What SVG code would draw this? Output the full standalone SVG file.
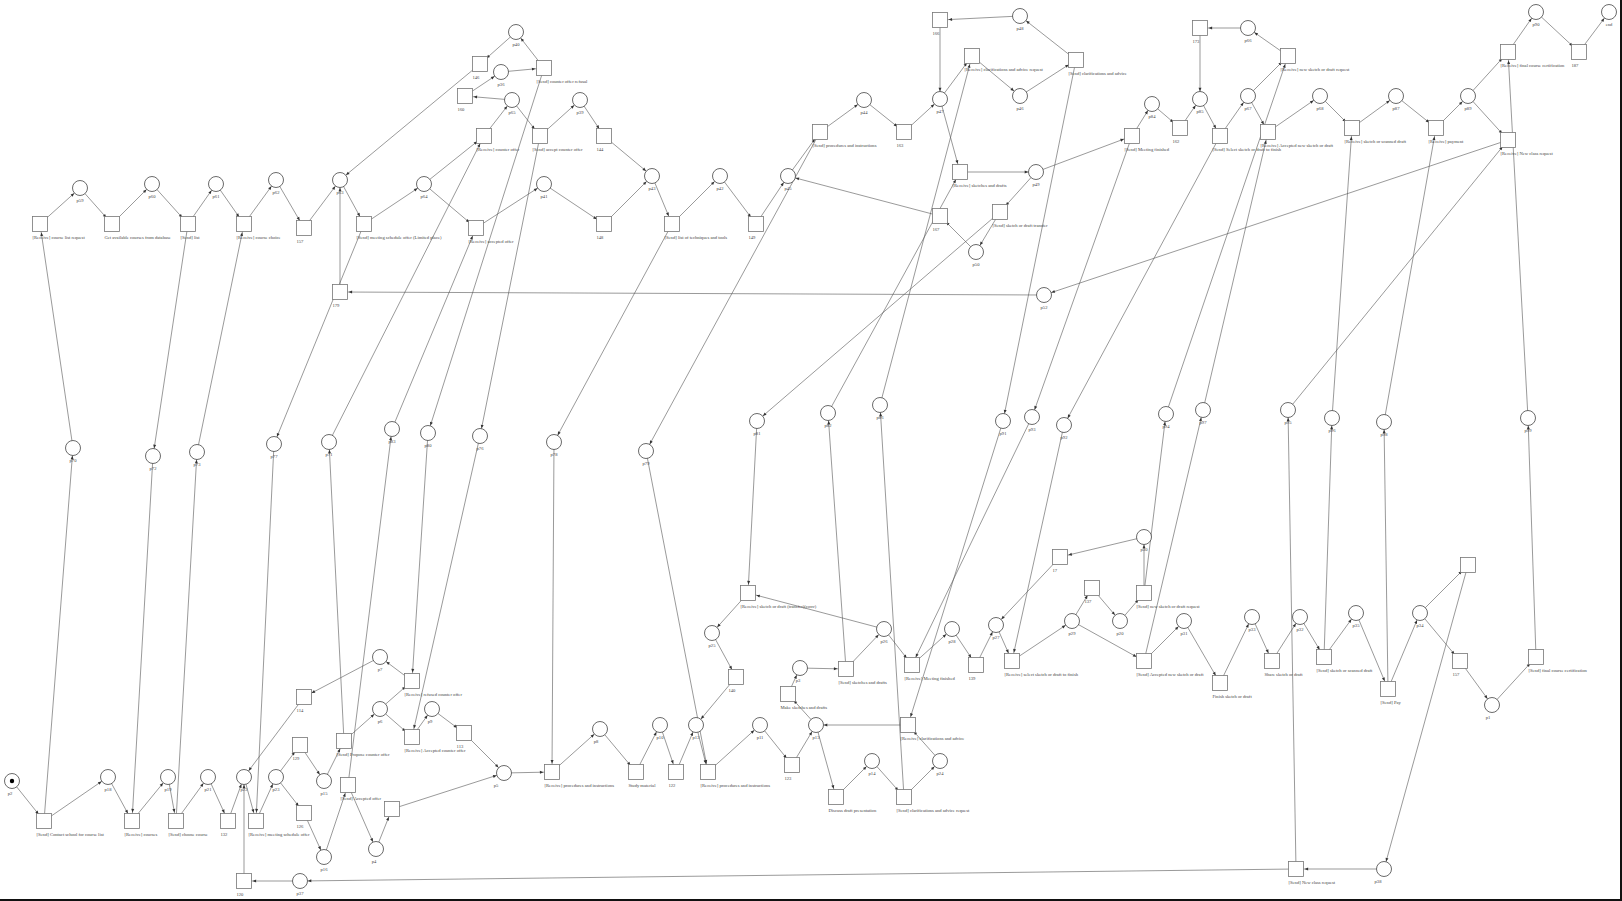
<svg xmlns="http://www.w3.org/2000/svg" width="1622" height="901" viewBox="0 0 1622 901">
<style>
.c line{stroke:#555;stroke-width:0.6;fill:none}
.c .p{marker-end:url(#aP)}
.c .t{marker-end:url(#aT)}
.tr rect{fill:#fff;stroke:#777;stroke-width:0.8}
.pl circle{fill:#fff;stroke:#444;stroke-width:0.8}
.pl circle.tok{fill:#000;stroke:none}
text{font-family:"Liberation Serif",serif;font-size:4.6px;fill:#444}
.pl text{text-anchor:middle}
</style>
<defs>
<marker id="aP" markerUnits="userSpaceOnUse" markerWidth="6" markerHeight="6" refX="7.8" refY="0" orient="auto" overflow="visible"><path d="M-3.5,-1.5L0,0L-3.5,1.5z" fill="#333"/></marker>
<marker id="aT" markerUnits="userSpaceOnUse" markerWidth="6" markerHeight="6" refX="8.6" refY="0" orient="auto" overflow="visible"><path d="M-3.5,-1.5L0,0L-3.5,1.5z" fill="#333"/></marker>
</defs>
<rect width="1622" height="901" fill="#fff"/>
<g id="connectors" class="c">
<line class="p" x1="40" y1="224" x2="80" y2="188"/>
<line class="t" x1="80" y1="188" x2="112" y2="224"/>
<line class="p" x1="112" y1="224" x2="152" y2="184"/>
<line class="t" x1="152" y1="184" x2="188" y2="224"/>
<line class="p" x1="188" y1="224" x2="216" y2="184"/>
<line class="t" x1="216" y1="184" x2="244" y2="224"/>
<line class="p" x1="244" y1="224" x2="276" y2="180"/>
<line class="t" x1="276" y1="180" x2="304" y2="228"/>
<line class="p" x1="304" y1="228" x2="340" y2="180"/>
<line class="p" x1="340" y1="292" x2="340" y2="180"/>
<line class="t" x1="340" y1="180" x2="364" y2="224"/>
<line class="p" x1="364" y1="224" x2="424" y2="184"/>
<line class="p" x1="364" y1="224" x2="274" y2="444"/>
<line class="t" x1="1044" y1="295" x2="340" y2="292"/>
<line class="p" x1="480" y1="64" x2="340" y2="180"/>
<line class="t" x1="424" y1="184" x2="484" y2="136"/>
<line class="t" x1="424" y1="184" x2="476" y2="228"/>
<line class="p" x1="476" y1="228" x2="544" y2="184"/>
<line class="t" x1="544" y1="184" x2="604" y2="224"/>
<line class="p" x1="604" y1="224" x2="652" y2="176"/>
<line class="p" x1="604" y1="136" x2="652" y2="176"/>
<line class="t" x1="652" y1="176" x2="672" y2="224"/>
<line class="p" x1="672" y1="224" x2="720" y2="176"/>
<line class="t" x1="720" y1="176" x2="756" y2="224"/>
<line class="p" x1="756" y1="224" x2="788" y2="176"/>
<line class="p" x1="940" y1="216" x2="788" y2="176"/>
<line class="t" x1="788" y1="176" x2="820" y2="132"/>
<line class="p" x1="820" y1="132" x2="864" y2="100"/>
<line class="t" x1="864" y1="100" x2="904" y2="132"/>
<line class="p" x1="904" y1="132" x2="940" y2="99"/>
<line class="p" x1="940" y1="20" x2="940" y2="99"/>
<line class="t" x1="1020" y1="16" x2="940" y2="20"/>
<line class="p" x1="1076" y1="60" x2="1020" y2="16"/>
<line class="t" x1="940" y1="99" x2="972" y2="56"/>
<line class="p" x1="972" y1="56" x2="1020" y2="96"/>
<line class="t" x1="1020" y1="96" x2="1076" y2="60"/>
<line class="t" x1="940" y1="99" x2="960" y2="172"/>
<line class="p" x1="960" y1="172" x2="1036" y2="172"/>
<line class="t" x1="1036" y1="172" x2="1132" y2="136"/>
<line class="t" x1="1036" y1="172" x2="1000" y2="212"/>
<line class="p" x1="1000" y1="212" x2="976" y2="252"/>
<line class="t" x1="976" y1="252" x2="940" y2="216"/>
<line class="p" x1="1132" y1="136" x2="1152" y2="104"/>
<line class="t" x1="1152" y1="104" x2="1180" y2="128"/>
<line class="p" x1="1180" y1="128" x2="1200" y2="99"/>
<line class="p" x1="1200" y1="28" x2="1200" y2="99"/>
<line class="t" x1="1248" y1="28" x2="1200" y2="28"/>
<line class="p" x1="1288" y1="56" x2="1248" y2="28"/>
<line class="t" x1="1200" y1="99" x2="1220" y2="136"/>
<line class="p" x1="1220" y1="136" x2="1248" y2="96"/>
<line class="t" x1="1248" y1="96" x2="1288" y2="56"/>
<line class="t" x1="1248" y1="96" x2="1268" y2="132"/>
<line class="p" x1="1268" y1="132" x2="1320" y2="96"/>
<line class="t" x1="1320" y1="96" x2="1352" y2="128"/>
<line class="p" x1="1352" y1="128" x2="1396" y2="96"/>
<line class="t" x1="1396" y1="96" x2="1436" y2="128"/>
<line class="p" x1="1436" y1="128" x2="1468" y2="96"/>
<line class="t" x1="1468" y1="96" x2="1508" y2="52"/>
<line class="t" x1="1468" y1="96" x2="1508" y2="140"/>
<line class="p" x1="1508" y1="52" x2="1536" y2="12"/>
<line class="t" x1="1536" y1="12" x2="1579" y2="52"/>
<line class="p" x1="1579" y1="52" x2="1609" y2="12"/>
<line class="p" x1="1508" y1="140" x2="1044" y2="295"/>
<line class="p" x1="484" y1="136" x2="512" y2="100"/>
<line class="t" x1="512" y1="100" x2="465" y2="96"/>
<line class="t" x1="512" y1="100" x2="540" y2="136"/>
<line class="p" x1="465" y1="96" x2="501" y2="72"/>
<line class="t" x1="501" y1="72" x2="544" y2="68"/>
<line class="p" x1="544" y1="68" x2="516" y2="32"/>
<line class="t" x1="516" y1="32" x2="480" y2="64"/>
<line class="p" x1="540" y1="136" x2="580" y2="100"/>
<line class="t" x1="580" y1="100" x2="604" y2="136"/>
<line class="p" x1="44" y1="821" x2="73" y2="448"/>
<line class="t" x1="73" y1="448" x2="40" y2="224"/>
<line class="p" x1="188" y1="224" x2="153" y2="456"/>
<line class="t" x1="153" y1="456" x2="132" y2="821"/>
<line class="p" x1="176" y1="821" x2="197" y2="452"/>
<line class="t" x1="197" y1="452" x2="244" y2="224"/>
<line class="t" x1="274" y1="444" x2="256" y2="821"/>
<line class="p" x1="344" y1="741" x2="329" y2="442"/>
<line class="t" x1="329" y1="442" x2="484" y2="136"/>
<line class="p" x1="348" y1="785" x2="392" y2="429"/>
<line class="t" x1="392" y1="429" x2="476" y2="228"/>
<line class="p" x1="544" y1="68" x2="428" y2="433"/>
<line class="t" x1="428" y1="433" x2="412" y2="681"/>
<line class="p" x1="540" y1="136" x2="480" y2="436"/>
<line class="t" x1="480" y1="436" x2="412" y2="737"/>
<line class="p" x1="672" y1="224" x2="554" y2="442"/>
<line class="t" x1="554" y1="442" x2="552" y2="772"/>
<line class="p" x1="820" y1="132" x2="646" y2="451"/>
<line class="t" x1="646" y1="451" x2="708" y2="772"/>
<line class="p" x1="1000" y1="212" x2="757" y2="421"/>
<line class="t" x1="757" y1="421" x2="748" y2="593"/>
<line class="p" x1="846" y1="669" x2="828" y2="413"/>
<line class="t" x1="828" y1="413" x2="960" y2="172"/>
<line class="p" x1="904" y1="797" x2="880" y2="405"/>
<line class="t" x1="880" y1="405" x2="972" y2="56"/>
<line class="p" x1="1076" y1="60" x2="1003" y2="421"/>
<line class="t" x1="1003" y1="421" x2="908" y2="725"/>
<line class="p" x1="1132" y1="136" x2="1032" y2="417"/>
<line class="t" x1="1032" y1="417" x2="912" y2="665"/>
<line class="p" x1="1220" y1="136" x2="1064" y2="425"/>
<line class="t" x1="1064" y1="425" x2="1012" y2="661"/>
<line class="p" x1="1144" y1="593" x2="1166" y2="414"/>
<line class="t" x1="1166" y1="414" x2="1288" y2="56"/>
<line class="p" x1="1144" y1="661" x2="1203" y2="410"/>
<line class="t" x1="1203" y1="410" x2="1268" y2="132"/>
<line class="p" x1="1296" y1="869" x2="1288" y2="410"/>
<line class="t" x1="1288" y1="410" x2="1508" y2="140"/>
<line class="p" x1="1324" y1="657" x2="1332" y2="418"/>
<line class="t" x1="1332" y1="418" x2="1352" y2="128"/>
<line class="p" x1="1388" y1="689" x2="1384" y2="422"/>
<line class="t" x1="1384" y1="422" x2="1436" y2="128"/>
<line class="p" x1="1536" y1="657" x2="1528" y2="418"/>
<line class="t" x1="1528" y1="418" x2="1508" y2="52"/>
<line class="t" x1="12" y1="781" x2="44" y2="821"/>
<line class="p" x1="44" y1="821" x2="108" y2="777"/>
<line class="t" x1="108" y1="777" x2="132" y2="821"/>
<line class="p" x1="132" y1="821" x2="168" y2="777"/>
<line class="t" x1="168" y1="777" x2="176" y2="821"/>
<line class="p" x1="176" y1="821" x2="208" y2="777"/>
<line class="t" x1="208" y1="777" x2="228" y2="821"/>
<line class="p" x1="228" y1="821" x2="244" y2="777"/>
<line class="p" x1="244" y1="881" x2="244" y2="777"/>
<line class="p" x1="304" y1="697" x2="244" y2="777"/>
<line class="t" x1="244" y1="777" x2="256" y2="821"/>
<line class="p" x1="256" y1="821" x2="276" y2="777"/>
<line class="t" x1="276" y1="777" x2="300" y2="745"/>
<line class="t" x1="276" y1="777" x2="304" y2="813"/>
<line class="p" x1="300" y1="745" x2="324" y2="781"/>
<line class="p" x1="304" y1="813" x2="324" y2="857"/>
<line class="t" x1="324" y1="781" x2="344" y2="741"/>
<line class="t" x1="324" y1="857" x2="348" y2="785"/>
<line class="p" x1="344" y1="741" x2="380" y2="709"/>
<line class="p" x1="348" y1="785" x2="376" y2="849"/>
<line class="t" x1="376" y1="849" x2="392" y2="809"/>
<line class="p" x1="392" y1="809" x2="504" y2="773"/>
<line class="t" x1="380" y1="709" x2="412" y2="681"/>
<line class="t" x1="380" y1="709" x2="412" y2="737"/>
<line class="p" x1="412" y1="681" x2="380" y2="657"/>
<line class="t" x1="380" y1="657" x2="304" y2="697"/>
<line class="p" x1="412" y1="737" x2="432" y2="709"/>
<line class="t" x1="432" y1="709" x2="464" y2="733"/>
<line class="p" x1="464" y1="733" x2="504" y2="773"/>
<line class="t" x1="504" y1="773" x2="552" y2="772"/>
<line class="p" x1="552" y1="772" x2="600" y2="729"/>
<line class="t" x1="600" y1="729" x2="636" y2="772"/>
<line class="p" x1="636" y1="772" x2="660" y2="725"/>
<line class="t" x1="660" y1="725" x2="676" y2="772"/>
<line class="p" x1="676" y1="772" x2="696" y2="725"/>
<line class="p" x1="736" y1="677" x2="696" y2="725"/>
<line class="t" x1="696" y1="725" x2="708" y2="772"/>
<line class="p" x1="708" y1="772" x2="760" y2="725"/>
<line class="t" x1="760" y1="725" x2="792" y2="765"/>
<line class="p" x1="792" y1="765" x2="816" y2="725"/>
<line class="t" x1="816" y1="725" x2="788" y2="694"/>
<line class="p" x1="788" y1="694" x2="800" y2="668"/>
<line class="t" x1="800" y1="668" x2="846" y2="669"/>
<line class="t" x1="816" y1="725" x2="836" y2="797"/>
<line class="p" x1="908" y1="725" x2="816" y2="725"/>
<line class="p" x1="836" y1="797" x2="872" y2="761"/>
<line class="t" x1="872" y1="761" x2="904" y2="797"/>
<line class="p" x1="904" y1="797" x2="940" y2="761"/>
<line class="t" x1="940" y1="761" x2="908" y2="725"/>
<line class="p" x1="748" y1="593" x2="712" y2="633"/>
<line class="t" x1="712" y1="633" x2="736" y2="677"/>
<line class="t" x1="884" y1="629" x2="748" y2="593"/>
<line class="p" x1="846" y1="669" x2="884" y2="629"/>
<line class="t" x1="884" y1="629" x2="912" y2="665"/>
<line class="p" x1="912" y1="665" x2="952" y2="629"/>
<line class="t" x1="952" y1="629" x2="976" y2="665"/>
<line class="p" x1="976" y1="665" x2="996" y2="625"/>
<line class="p" x1="1060" y1="557" x2="996" y2="625"/>
<line class="t" x1="996" y1="625" x2="1012" y2="661"/>
<line class="p" x1="1012" y1="661" x2="1072" y2="621"/>
<line class="t" x1="1072" y1="621" x2="1092" y2="588"/>
<line class="p" x1="1092" y1="588" x2="1120" y2="621"/>
<line class="t" x1="1120" y1="621" x2="1144" y2="593"/>
<line class="p" x1="1144" y1="593" x2="1144" y2="537"/>
<line class="t" x1="1144" y1="537" x2="1060" y2="557"/>
<line class="t" x1="1072" y1="621" x2="1144" y2="661"/>
<line class="p" x1="1144" y1="661" x2="1184" y2="621"/>
<line class="t" x1="1184" y1="621" x2="1220" y2="683"/>
<line class="p" x1="1220" y1="683" x2="1252" y2="617"/>
<line class="t" x1="1252" y1="617" x2="1272" y2="661"/>
<line class="p" x1="1272" y1="661" x2="1300" y2="617"/>
<line class="t" x1="1300" y1="617" x2="1324" y2="657"/>
<line class="p" x1="1324" y1="657" x2="1356" y2="613"/>
<line class="t" x1="1356" y1="613" x2="1388" y2="689"/>
<line class="p" x1="1388" y1="689" x2="1420" y2="613"/>
<line class="t" x1="1420" y1="613" x2="1460" y2="661"/>
<line class="p" x1="1460" y1="661" x2="1492" y2="705"/>
<line class="t" x1="1492" y1="705" x2="1536" y2="657"/>
<line class="t" x1="1420" y1="613" x2="1468" y2="565"/>
<line class="p" x1="1468" y1="565" x2="1384" y2="869"/>
<line class="t" x1="1384" y1="869" x2="1296" y2="869"/>
<line class="p" x1="1296" y1="869" x2="300" y2="881"/>
<line class="t" x1="300" y1="881" x2="244" y2="881"/>
</g>
<g class="tr">
<g id="t-receive-course-list-request"><rect x="32.5" y="216.5" width="15" height="15"/><text x="32.5" y="238.5">[Receive] course list request</text></g>
<g id="t-get-available-courses"><rect x="104.5" y="216.5" width="15" height="15"/><text x="104.5" y="238.5">Get available courses from database</text></g>
<g id="t-send-list"><rect x="180.5" y="216.5" width="15" height="15"/><text x="180.5" y="238.5">[Send] list</text></g>
<g id="t-receive-course-choice"><rect x="236.5" y="216.5" width="15" height="15"/><text x="236.5" y="238.5">[Receive] course choice</text></g>
<g id="t-157a"><rect x="296.5" y="220.5" width="15" height="15"/><text x="296.5" y="242.5">157</text></g>
<g id="t-send-meeting-schedule-offer"><rect x="356.5" y="216.5" width="15" height="15"/><text x="356.5" y="238.5">[Send] meeting schedule offer (Limited place)</text></g>
<g id="t-179"><rect x="332.5" y="284.5" width="15" height="15"/><text x="332.5" y="306.5">179</text></g>
<g id="t-146"><rect x="472.5" y="56.5" width="15" height="15"/><text x="472.5" y="78.5">146</text></g>
<g id="t-send-counter-offer-refusal"><rect x="536.5" y="60.5" width="15" height="15"/><text x="536.5" y="82.5">[Send] counter offer refusal</text></g>
<g id="t-160"><rect x="457.5" y="88.5" width="15" height="15"/><text x="457.5" y="110.5">160</text></g>
<g id="t-receive-counter-offer"><rect x="476.5" y="128.5" width="15" height="15"/><text x="476.5" y="150.5">[Receive] counter offer</text></g>
<g id="t-send-accept-counter-offer"><rect x="532.5" y="128.5" width="15" height="15"/><text x="532.5" y="150.5">[Send] accept counter offer</text></g>
<g id="t-144"><rect x="596.5" y="128.5" width="15" height="15"/><text x="596.5" y="150.5">144</text></g>
<g id="t-receive-accepted-offer"><rect x="468.5" y="220.5" width="15" height="15"/><text x="468.5" y="242.5">[Receive] accepted offer</text></g>
<g id="t-148"><rect x="596.5" y="216.5" width="15" height="15"/><text x="596.5" y="238.5">148</text></g>
<g id="t-send-list-of-techniques"><rect x="664.5" y="216.5" width="15" height="15"/><text x="664.5" y="238.5">[Send] list of techniques and tools</text></g>
<g id="t-149"><rect x="748.5" y="216.5" width="15" height="15"/><text x="748.5" y="238.5">149</text></g>
<g id="t-send-procedures"><rect x="812.5" y="124.5" width="15" height="15"/><text x="812.5" y="146.5">[Send] procedures and instructions</text></g>
<g id="t-163"><rect x="896.5" y="124.5" width="15" height="15"/><text x="896.5" y="146.5">163</text></g>
<g id="t-166"><rect x="932.5" y="12.5" width="15" height="15"/><text x="932.5" y="34.5">166</text></g>
<g id="t-receive-clarif-request"><rect x="964.5" y="48.5" width="15" height="15"/><text x="964.5" y="70.5">[Receive] clarifications and advice request</text></g>
<g id="t-send-clarif"><rect x="1068.5" y="52.5" width="15" height="15"/><text x="1068.5" y="74.5">[Send] clarifications and advice</text></g>
<g id="t-receive-sketches"><rect x="952.5" y="164.5" width="15" height="15"/><text x="952.5" y="186.5">[Receive] sketches and drafts</text></g>
<g id="t-167"><rect x="932.5" y="208.5" width="15" height="15"/><text x="932.5" y="230.5">167</text></g>
<g id="t-send-sketch-transfer"><rect x="992.5" y="204.5" width="15" height="15"/><text x="992.5" y="226.5">[Send] sketch or draft transfer</text></g>
<g id="t-send-meeting-finished"><rect x="1124.5" y="128.5" width="15" height="15"/><text x="1124.5" y="150.5">[Send] Meeting finished</text></g>
<g id="t-162"><rect x="1172.5" y="120.5" width="15" height="15"/><text x="1172.5" y="142.5">162</text></g>
<g id="t-173"><rect x="1192.5" y="20.5" width="15" height="15"/><text x="1192.5" y="42.5">173</text></g>
<g id="t-send-select-sketch"><rect x="1212.5" y="128.5" width="15" height="15"/><text x="1212.5" y="150.5">[Send] Select sketch or draft to finish</text></g>
<g id="t-receive-new-sketch-request"><rect x="1280.5" y="48.5" width="15" height="15"/><text x="1280.5" y="70.5">[Receive] new sketch or draft request</text></g>
<g id="t-receive-accepted-new-sketch"><rect x="1260.5" y="124.5" width="15" height="15"/><text x="1260.5" y="146.5">[Receive] Accepted new sketch or draft</text></g>
<g id="t-receive-scanned-draft"><rect x="1344.5" y="120.5" width="15" height="15"/><text x="1344.5" y="142.5">[Receive] sketch or scanned draft</text></g>
<g id="t-receive-payment"><rect x="1428.5" y="120.5" width="15" height="15"/><text x="1428.5" y="142.5">[Receive] payment</text></g>
<g id="t-receive-final-cert"><rect x="1500.5" y="44.5" width="15" height="15"/><text x="1500.5" y="66.5">[Receive] final course certification</text></g>
<g id="t-receive-new-class"><rect x="1500.5" y="132.5" width="15" height="15"/><text x="1500.5" y="154.5">[Receive] New class request</text></g>
<g id="t-187"><rect x="1571.5" y="44.5" width="15" height="15"/><text x="1571.5" y="66.5">187</text></g>
<g id="t-send-contact-school"><rect x="36.5" y="813.5" width="15" height="15"/><text x="36.5" y="835.5">[Send] Contact school for course list</text></g>
<g id="t-receive-courses"><rect x="124.5" y="813.5" width="15" height="15"/><text x="124.5" y="835.5">[Receive] courses</text></g>
<g id="t-send-choose-course"><rect x="168.5" y="813.5" width="15" height="15"/><text x="168.5" y="835.5">[Send] choose course</text></g>
<g id="t-132"><rect x="220.5" y="813.5" width="15" height="15"/><text x="220.5" y="835.5">132</text></g>
<g id="t-receive-meeting-schedule"><rect x="248.5" y="813.5" width="15" height="15"/><text x="248.5" y="835.5">[Receive] meeting schedule offer</text></g>
<g id="t-129"><rect x="292.5" y="737.5" width="15" height="15"/><text x="292.5" y="759.5">129</text></g>
<g id="t-126"><rect x="296.5" y="805.5" width="15" height="15"/><text x="296.5" y="827.5">126</text></g>
<g id="t-114"><rect x="296.5" y="689.5" width="15" height="15"/><text x="296.5" y="711.5">114</text></g>
<g id="t-send-propose-counter"><rect x="336.5" y="733.5" width="15" height="15"/><text x="336.5" y="755.5">[Send] Propose counter offer</text></g>
<g id="t-send-accepted-offer"><rect x="340.5" y="777.5" width="15" height="15"/><text x="340.5" y="799.5">[Send] Accepted offer</text></g>
<g id="t-silent-a"><rect x="384.5" y="801.5" width="15" height="15"/></g>
<g id="t-120"><rect x="236.5" y="873.5" width="15" height="15"/><text x="236.5" y="895.5">120</text></g>
<g id="t-receive-refused-counter"><rect x="404.5" y="673.5" width="15" height="15"/><text x="404.5" y="695.5">[Receive] refused counter offer</text></g>
<g id="t-receive-accepted-counter"><rect x="404.5" y="729.5" width="15" height="15"/><text x="404.5" y="751.5">[Receive] Accepted counter offer</text></g>
<g id="t-113"><rect x="456.5" y="725.5" width="15" height="15"/><text x="456.5" y="747.5">113</text></g>
<g id="t-receive-procedures-1"><rect x="544.5" y="764.5" width="15" height="15"/><text x="544.5" y="786.5">[Receive] procedures and instructions</text></g>
<g id="t-study-material"><rect x="628.5" y="764.5" width="15" height="15"/><text x="628.5" y="786.5">Study material</text></g>
<g id="t-122"><rect x="668.5" y="764.5" width="15" height="15"/><text x="668.5" y="786.5">122</text></g>
<g id="t-receive-procedures-2"><rect x="700.5" y="764.5" width="15" height="15"/><text x="700.5" y="786.5">[Receive] procedures and instructions</text></g>
<g id="t-123"><rect x="784.5" y="757.5" width="15" height="15"/><text x="784.5" y="779.5">123</text></g>
<g id="t-140"><rect x="728.5" y="669.5" width="15" height="15"/><text x="728.5" y="691.5">140</text></g>
<g id="t-receive-sketch-transfer"><rect x="740.5" y="585.5" width="15" height="15"/><text x="740.5" y="607.5">[Receive] sketch or draft (transfer)(conv)</text></g>
<g id="t-make-sketches"><rect x="780.5" y="686.5" width="15" height="15"/><text x="780.5" y="708.5">Make sketches and drafts</text></g>
<g id="t-send-sketches"><rect x="838.5" y="661.5" width="15" height="15"/><text x="838.5" y="683.5">[Send] sketches and drafts</text></g>
<g id="t-receive-meeting-finished"><rect x="904.5" y="657.5" width="15" height="15"/><text x="904.5" y="679.5">[Receive] Meeting finished</text></g>
<g id="t-139"><rect x="968.5" y="657.5" width="15" height="15"/><text x="968.5" y="679.5">139</text></g>
<g id="t-receive-select-sketch"><rect x="1004.5" y="653.5" width="15" height="15"/><text x="1004.5" y="675.5">[Receive] select sketch or draft to finish</text></g>
<g id="t-17"><rect x="1052.5" y="549.5" width="15" height="15"/><text x="1052.5" y="571.5">17</text></g>
<g id="t-137"><rect x="1084.5" y="580.5" width="15" height="15"/><text x="1084.5" y="602.5">137</text></g>
<g id="t-send-new-sketch-request"><rect x="1136.5" y="585.5" width="15" height="15"/><text x="1136.5" y="607.5">[Send] new sketch or draft request</text></g>
<g id="t-send-accepted-new-sketch"><rect x="1136.5" y="653.5" width="15" height="15"/><text x="1136.5" y="675.5">[Send] Accepted new sketch or draft</text></g>
<g id="t-finish-sketch"><rect x="1212.5" y="675.5" width="15" height="15"/><text x="1212.5" y="697.5">Finish sketch or draft</text></g>
<g id="t-share-sketch"><rect x="1264.5" y="653.5" width="15" height="15"/><text x="1264.5" y="675.5">Share sketch or draft</text></g>
<g id="t-send-scanned-draft"><rect x="1316.5" y="649.5" width="15" height="15"/><text x="1316.5" y="671.5">[Send] sketch or scanned draft</text></g>
<g id="t-send-pay"><rect x="1380.5" y="681.5" width="15" height="15"/><text x="1380.5" y="703.5">[Send] Pay</text></g>
<g id="t-157b"><rect x="1452.5" y="653.5" width="15" height="15"/><text x="1452.5" y="675.5">157</text></g>
<g id="t-send-final-cert"><rect x="1528.5" y="649.5" width="15" height="15"/><text x="1528.5" y="671.5">[Send] final course certification</text></g>
<g id="t-silent-b"><rect x="1460.5" y="557.5" width="15" height="15"/></g>
<g id="t-send-new-class"><rect x="1288.5" y="861.5" width="15" height="15"/><text x="1288.5" y="883.5">[Send] New class request</text></g>
<g id="t-receive-clarif"><rect x="900.5" y="717.5" width="15" height="15"/><text x="900.5" y="739.5">[Receive] clarifications and advice</text></g>
<g id="t-discuss-draft"><rect x="828.5" y="789.5" width="15" height="15"/><text x="828.5" y="811.5">Discuss draft presentation</text></g>
<g id="t-send-clarif-request"><rect x="896.5" y="789.5" width="15" height="15"/><text x="896.5" y="811.5">[Send] clarifications and advice request</text></g>
</g>
<g class="pl">
<g id="p59"><circle cx="80" cy="188" r="7.5"/><text x="80" y="201.5">p59</text></g>
<g id="p60"><circle cx="152" cy="184" r="7.5"/><text x="152" y="197.5">p60</text></g>
<g id="p61"><circle cx="216" cy="184" r="7.5"/><text x="216" y="197.5">p61</text></g>
<g id="p62"><circle cx="276" cy="180" r="7.5"/><text x="276" y="193.5">p62</text></g>
<g id="p63"><circle cx="340" cy="180" r="7.5"/><text x="340" y="193.5">p63</text></g>
<g id="p64"><circle cx="424" cy="184" r="7.5"/><text x="424" y="197.5">p64</text></g>
<g id="p40"><circle cx="516" cy="32" r="7.5"/><text x="516" y="45.5">p40</text></g>
<g id="p36"><circle cx="501" cy="72" r="7.5"/><text x="501" y="85.5">p36</text></g>
<g id="p65"><circle cx="512" cy="100" r="7.5"/><text x="512" y="113.5">p65</text></g>
<g id="p39"><circle cx="580" cy="100" r="7.5"/><text x="580" y="113.5">p39</text></g>
<g id="p41"><circle cx="544" cy="184" r="7.5"/><text x="544" y="197.5">p41</text></g>
<g id="p43"><circle cx="652" cy="176" r="7.5"/><text x="652" y="189.5">p43</text></g>
<g id="p42"><circle cx="720" cy="176" r="7.5"/><text x="720" y="189.5">p42</text></g>
<g id="p45"><circle cx="788" cy="176" r="7.5"/><text x="788" y="189.5">p45</text></g>
<g id="p44"><circle cx="864" cy="100" r="7.5"/><text x="864" y="113.5">p44</text></g>
<g id="p47"><circle cx="940" cy="99" r="7.5"/><text x="940" y="112.5">p47</text></g>
<g id="p48"><circle cx="1020" cy="16" r="7.5"/><text x="1020" y="29.5">p48</text></g>
<g id="p46"><circle cx="1020" cy="96" r="7.5"/><text x="1020" y="109.5">p46</text></g>
<g id="p49"><circle cx="1036" cy="172" r="7.5"/><text x="1036" y="185.5">p49</text></g>
<g id="p50"><circle cx="976" cy="252" r="7.5"/><text x="976" y="265.5">p50</text></g>
<g id="p52"><circle cx="1044" cy="295" r="7.5"/><text x="1044" y="308.5">p52</text></g>
<g id="p84"><circle cx="1152" cy="104" r="7.5"/><text x="1152" y="117.5">p84</text></g>
<g id="p85"><circle cx="1200" cy="99" r="7.5"/><text x="1200" y="112.5">p85</text></g>
<g id="p66"><circle cx="1248" cy="28" r="7.5"/><text x="1248" y="41.5">p66</text></g>
<g id="p67"><circle cx="1248" cy="96" r="7.5"/><text x="1248" y="109.5">p67</text></g>
<g id="p68"><circle cx="1320" cy="96" r="7.5"/><text x="1320" y="109.5">p68</text></g>
<g id="p87"><circle cx="1396" cy="96" r="7.5"/><text x="1396" y="109.5">p87</text></g>
<g id="p89"><circle cx="1468" cy="96" r="7.5"/><text x="1468" y="109.5">p89</text></g>
<g id="p90"><circle cx="1536" cy="12" r="7.5"/><text x="1536" y="25.5">p90</text></g>
<g id="end"><circle cx="1609" cy="12" r="7.5"/><text x="1609" y="25.5">end</text></g>
<g id="p70"><circle cx="73" cy="448" r="7.5"/><text x="73" y="461.5">p70</text></g>
<g id="p72"><circle cx="153" cy="456" r="7.5"/><text x="153" y="469.5">p72</text></g>
<g id="p73"><circle cx="197" cy="452" r="7.5"/><text x="197" y="465.5">p73</text></g>
<g id="p77"><circle cx="274" cy="444" r="7.5"/><text x="274" y="457.5">p77</text></g>
<g id="p71"><circle cx="329" cy="442" r="7.5"/><text x="329" y="455.5">p71</text></g>
<g id="p83"><circle cx="392" cy="429" r="7.5"/><text x="392" y="442.5">p83</text></g>
<g id="p80"><circle cx="428" cy="433" r="7.5"/><text x="428" y="446.5">p80</text></g>
<g id="p76"><circle cx="480" cy="436" r="7.5"/><text x="480" y="449.5">p76</text></g>
<g id="p78"><circle cx="554" cy="442" r="7.5"/><text x="554" y="455.5">p78</text></g>
<g id="p79"><circle cx="646" cy="451" r="7.5"/><text x="646" y="464.5">p79</text></g>
<g id="p81"><circle cx="757" cy="421" r="7.5"/><text x="757" y="434.5">p81</text></g>
<g id="p82"><circle cx="828" cy="413" r="7.5"/><text x="828" y="426.5">p82</text></g>
<g id="p86b"><circle cx="880" cy="405" r="7.5"/><text x="880" y="418.5">p86</text></g>
<g id="p91"><circle cx="1003" cy="421" r="7.5"/><text x="1003" y="434.5">p91</text></g>
<g id="p93"><circle cx="1032" cy="417" r="7.5"/><text x="1032" y="430.5">p93</text></g>
<g id="p92"><circle cx="1064" cy="425" r="7.5"/><text x="1064" y="438.5">p92</text></g>
<g id="p94"><circle cx="1166" cy="414" r="7.5"/><text x="1166" y="427.5">p94</text></g>
<g id="p97"><circle cx="1203" cy="410" r="7.5"/><text x="1203" y="423.5">p97</text></g>
<g id="p95"><circle cx="1288" cy="410" r="7.5"/><text x="1288" y="423.5">p95</text></g>
<g id="p96"><circle cx="1332" cy="418" r="7.5"/><text x="1332" y="431.5">p96</text></g>
<g id="p98"><circle cx="1384" cy="422" r="7.5"/><text x="1384" y="435.5">p98</text></g>
<g id="p99"><circle cx="1528" cy="418" r="7.5"/><text x="1528" y="431.5">p99</text></g>
<g id="p2"><circle cx="12" cy="781" r="7.5"/><circle class="tok" cx="12" cy="781" r="2.2"/><text x="10" y="794.5">p2</text></g>
<g id="p18"><circle cx="108" cy="777" r="7.5"/><text x="108" y="790.5">p18</text></g>
<g id="p19"><circle cx="168" cy="777" r="7.5"/><text x="168" y="790.5">p19</text></g>
<g id="p21"><circle cx="208" cy="777" r="7.5"/><text x="208" y="790.5">p21</text></g>
<g id="p22"><circle cx="244" cy="777" r="7.5"/><text x="244" y="790.5">p22</text></g>
<g id="p23"><circle cx="276" cy="777" r="7.5"/><text x="276" y="790.5">p23</text></g>
<g id="p15"><circle cx="324" cy="781" r="7.5"/><text x="324" y="794.5">p15</text></g>
<g id="p16"><circle cx="324" cy="857" r="7.5"/><text x="324" y="870.5">p16</text></g>
<g id="p7"><circle cx="380" cy="657" r="7.5"/><text x="380" y="670.5">p7</text></g>
<g id="p6"><circle cx="380" cy="709" r="7.5"/><text x="380" y="722.5">p6</text></g>
<g id="p4"><circle cx="376" cy="849" r="7.5"/><text x="374" y="862.5">p4</text></g>
<g id="p37"><circle cx="300" cy="881" r="7.5"/><text x="300" y="894.5">p37</text></g>
<g id="p9"><circle cx="432" cy="709" r="7.5"/><text x="430" y="722.5">p9</text></g>
<g id="p5"><circle cx="504" cy="773" r="7.5"/><text x="496" y="786.5">p5</text></g>
<g id="p8"><circle cx="600" cy="729" r="7.5"/><text x="596" y="742.5">p8</text></g>
<g id="p10"><circle cx="660" cy="725" r="7.5"/><text x="660" y="738.5">p10</text></g>
<g id="p12"><circle cx="696" cy="725" r="7.5"/><text x="696" y="738.5">p12</text></g>
<g id="p11"><circle cx="760" cy="725" r="7.5"/><text x="760" y="738.5">p11</text></g>
<g id="p13"><circle cx="816" cy="725" r="7.5"/><text x="816" y="738.5">p13</text></g>
<g id="p3"><circle cx="800" cy="668" r="7.5"/><text x="798" y="681.5">p3</text></g>
<g id="p25"><circle cx="712" cy="633" r="7.5"/><text x="712" y="646.5">p25</text></g>
<g id="p26"><circle cx="884" cy="629" r="7.5"/><text x="884" y="642.5">p26</text></g>
<g id="p28"><circle cx="952" cy="629" r="7.5"/><text x="952" y="642.5">p28</text></g>
<g id="p27"><circle cx="996" cy="625" r="7.5"/><text x="996" y="638.5">p27</text></g>
<g id="p29"><circle cx="1072" cy="621" r="7.5"/><text x="1072" y="634.5">p29</text></g>
<g id="p20"><circle cx="1120" cy="621" r="7.5"/><text x="1120" y="634.5">p20</text></g>
<g id="p30"><circle cx="1144" cy="537" r="7.5"/><text x="1144" y="550.5">p30</text></g>
<g id="p31"><circle cx="1184" cy="621" r="7.5"/><text x="1184" y="634.5">p31</text></g>
<g id="p33"><circle cx="1252" cy="617" r="7.5"/><text x="1252" y="630.5">p33</text></g>
<g id="p32"><circle cx="1300" cy="617" r="7.5"/><text x="1300" y="630.5">p32</text></g>
<g id="p35"><circle cx="1356" cy="613" r="7.5"/><text x="1356" y="626.5">p35</text></g>
<g id="p34"><circle cx="1420" cy="613" r="7.5"/><text x="1420" y="626.5">p34</text></g>
<g id="p1"><circle cx="1492" cy="705" r="7.5"/><text x="1488" y="718.5">p1</text></g>
<g id="p38"><circle cx="1384" cy="869" r="7.5"/><text x="1378" y="882.5">p38</text></g>
<g id="p14"><circle cx="872" cy="761" r="7.5"/><text x="872" y="774.5">p14</text></g>
<g id="p24"><circle cx="940" cy="761" r="7.5"/><text x="940" y="774.5">p24</text></g>
</g>
<line x1="0" y1="900" x2="1622" y2="900" stroke="#111" stroke-width="2"/>
<line x1="1621" y1="0" x2="1621" y2="901" stroke="#111" stroke-width="2"/>
</svg>
